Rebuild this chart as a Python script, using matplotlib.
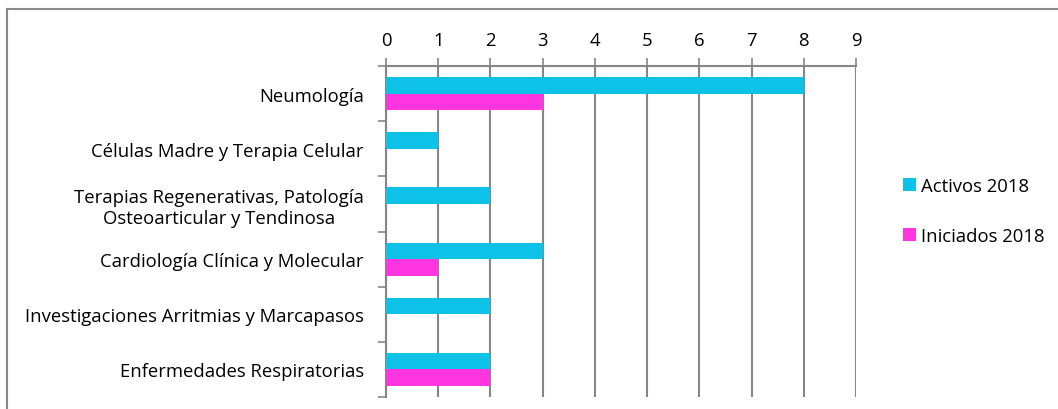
import matplotlib.pyplot as plt
import numpy as np
from matplotlib.lines import Line2D

categories = [
    "Neumología",
    "Células Madre y Terapia Celular",
    "Terapias Regenerativas, Patología\nOsteoarticular y Tendinosa",
    "Cardiología Clínica y Molecular",
    "Investigaciones Arritmias y Marcapasos",
    "Enfermedades Respiratorias",
]
activos = [8, 1, 2, 3, 2, 2]
iniciados = [3, 0, 0, 1, 0, 2]
series_names = ["Activos 2018", "Iniciados 2018"]

plt.rcParams['font.family'] = ['Open Sans', 'DejaVu Sans']
grey = "#868686"
cyan = "#0DC2E6"
magenta = "#FF36E0"
fs = 13.3

fig = plt.figure(figsize=(10.58, 4.10), dpi=100)
ax = fig.add_axes([386 / 1058, 1 - 398 / 410, 470 / 1058, 331 / 410])

y = np.arange(len(categories))
h = 0.3
ax.barh(y - h / 2, activos, height=h, color=cyan, label=series_names[0], zorder=3)
ax.barh(y + h / 2, iniciados, height=h, color=magenta, label=series_names[1], zorder=3)

ax.set_xlim(0, 9)
ax.set_ylim(len(categories) - 0.5, -0.5)
ax.set_xticks(range(10))
ax.xaxis.tick_top()
ax.tick_params(axis='x', length=6, color=grey, width=1.2, labelsize=fs, pad=6)
ax.set_yticks(y)
ax.set_yticklabels(categories, fontsize=fs, multialignment='center')
ax.yaxis.set_minor_locator(plt.FixedLocator(np.arange(-0.5, len(categories), 1)))
ax.tick_params(axis='y', which='major', length=0, pad=16)
ax.tick_params(axis='y', which='minor', length=6, color=grey, width=1.2)
ax.grid(axis='x', color=grey, linewidth=1.5, zorder=0)
for s in ['right', 'bottom']:
    ax.spines[s].set_visible(False)
for s in ['top', 'left']:
    ax.spines[s].set_color(grey)
    ax.spines[s].set_linewidth(1.5)

ax.legend(loc='center left', bbox_to_anchor=(886 / 1058, 1 - 212 / 410),
          bbox_transform=fig.transFigure, frameon=False, fontsize=fs,
          handlelength=0.7, handleheight=0.7, handletextpad=0.3, labelspacing=1.75)

fig.add_artist(Line2D([7 / 1058, 7 / 1058], [0, 1 - 10 / 410], transform=fig.transFigure,
                      color="#898989", linewidth=1.5))
fig.add_artist(Line2D([7 / 1058, 1], [1 - 10 / 410, 1 - 10 / 410], transform=fig.transFigure,
                      color="#898989", linewidth=1.5))

fig.savefig("out.png", dpi=100)
